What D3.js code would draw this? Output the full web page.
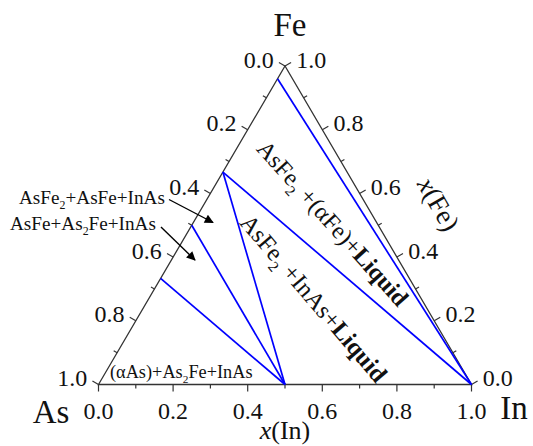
<!DOCTYPE html>
<html>
<head>
<meta charset="utf-8">
<title>As-Fe-In isothermal section</title>
<script src="https://d3js.org/d3.v7.min.js"></script>
<style>
  body { margin: 0; background: #fff; }
</style>
</head>
<body>
<script>
// tick values and labels (shared by the three sides)
const ticksMajor = [0, 0.2, 0.4, 0.6, 0.8, 1.0];
const ticksMinor = [0.1, 0.3, 0.5, 0.7, 0.9];
const tickLabels = ["0.0", "0.2", "0.4", "0.6", "0.8", "1.0"];

// phase compositions: x(In), x(Fe)
const phases  = ["(αFe)", "AsFe2", "AsFe", "As2Fe", "InAs", "In"];
const phaseIn = [0, 0, 0, 0, 0.5, 1];
const phaseFe = [0.96, 0.667, 0.5, 0.333, 0, 0];

// tie lines between phases
const tieLines = [["(αFe)", "In"], ["AsFe2", "In"], ["AsFe2", "InAs"], ["AsFe", "InAs"], ["As2Fe", "InAs"]];

const w = 533, h = 446;
const svg = d3.select("body").append("svg").attr("width", w).attr("height", h)
  .attr("font-family", "'Liberation Serif', 'Times New Roman', Times, 'DejaVu Serif', serif")
  .attr("fill", "#111");

const bx = d3.scaleLinear().domain([0, 1]).range([98.5, 471.5]);
const fy = d3.scaleLinear().domain([0, 1]).range([384.5, 66]);
const pt = (xin, xfe) => [bx(xin + xfe / 2), fy(xfe)];

// triangle frame
svg.append("path")
  .attr("d", d3.line()([pt(0, 0), pt(1, 0), pt(0, 1)]) + "Z")
  .attr("fill", "none").attr("stroke", "#333").attr("stroke-width", 1.3);

// sides: position of value v, outward normal
const sides = [
  { p: v => pt(v, 0), n: [0, 1], anchor: "middle", off: 26 },           // x(In)
  { p: v => pt(0, 1 - v), n: [-0.866, -0.5], anchor: "end", off: 13 },  // x(As)
  { p: v => pt(1 - v, v), n: [0.866, -0.5], anchor: "start", off: 13 }  // x(Fe)
];

sides.forEach(s => {
  const tk = svg.append("g").attr("stroke", "#333").attr("stroke-width", 1.2);
  ticksMajor.concat(ticksMinor).forEach(v => {
    const len = ticksMajor.includes(v) ? 7 : 4;
    const [x, y] = s.p(v);
    tk.append("line").attr("x1", x).attr("y1", y)
      .attr("x2", x + s.n[0] * len).attr("y2", y + s.n[1] * len);
  });
  ticksMajor.forEach((v, i) => {
    const [x, y] = s.p(v);
    svg.append("text")
      .attr("x", x + s.n[0] * s.off).attr("y", y + s.n[1] * s.off)
      .attr("text-anchor", s.anchor).attr("dominant-baseline", "central")
      .attr("font-size", 24).text(tickLabels[i]);
  });
});

// tie lines
const idx = name => phases.indexOf(name);
svg.append("g").selectAll("line").data(tieLines).join("line")
  .attr("x1", d => pt(phaseIn[idx(d[0])], phaseFe[idx(d[0])])[0])
  .attr("y1", d => pt(phaseIn[idx(d[0])], phaseFe[idx(d[0])])[1])
  .attr("x2", d => pt(phaseIn[idx(d[1])], phaseFe[idx(d[1])])[0])
  .attr("y2", d => pt(phaseIn[idx(d[1])], phaseFe[idx(d[1])])[1])
  .attr("stroke", "#0000ff").attr("stroke-width", 1.7);

// rich text helper: segments [text, style]
function rich(sel, segs, size) {
  let shifted = false;
  segs.forEach(([t, st]) => {
    const ts = sel.append("tspan").text(t);
    if (st === "sub") {
      ts.attr("font-size", size * 0.62).attr("dy", size * 0.28);
      shifted = true;
    } else {
      if (shifted) { ts.attr("dy", -size * 0.28); shifted = false; }
      if (st === "b") ts.attr("font-weight", "bold");
    }
  });
}

// vertex labels
svg.append("text").attr("x", 290).attr("y", 36).attr("text-anchor", "middle").attr("font-size", 33).text("Fe");
svg.append("text").attr("x", 51).attr("y", 423).attr("text-anchor", "middle").attr("font-size", 33).text("As");
svg.append("text").attr("x", 514).attr("y", 419).attr("text-anchor", "middle").attr("font-size", 33).text("In");

// axis titles
const tIn = svg.append("text").attr("x", bx(0.5)).attr("y", 439).attr("text-anchor", "middle").attr("font-size", 26);
tIn.append("tspan").attr("font-style", "italic").text("x");
tIn.append("tspan").text("(In)");
const tFe = svg.append("text").attr("transform", "translate(439,204) rotate(60)")
  .attr("text-anchor", "middle").attr("dy", "0.35em").attr("font-size", 27);
tFe.append("tspan").attr("font-style", "italic").text("x");
tFe.append("tspan").text("(Fe)");

// region labels
const r1 = svg.append("text").attr("transform", "translate(333,223) rotate(48)")
  .attr("text-anchor", "middle").attr("dy", "0.35em").attr("font-size", 24);
rich(r1, [["AsFe", ""], ["2", "sub"], [" +(αFe)+", ""], ["Liquid", "b"]], 24);

const r2 = svg.append("text").attr("transform", "translate(314,298) rotate(49.5)")
  .attr("text-anchor", "middle").attr("dy", "0.35em").attr("font-size", 24.5);
rich(r2, [["AsFe", ""], ["2", "sub"], [" +InAs+", ""], ["Liquid", "b"]], 24.5);

const r3 = svg.append("text").attr("x", 110).attr("y", 378).attr("font-size", 18.3);
rich(r3, [["(αAs)+As", ""], ["2", "sub"], ["Fe+InAs", ""]], 18.3);

const r4 = svg.append("text").attr("x", 19).attr("y", 203.5).attr("font-size", 19.2);
rich(r4, [["AsFe", ""], ["2", "sub"], ["+AsFe+InAs", ""]], 19.2);

const r5 = svg.append("text").attr("x", 10).attr("y", 229.5).attr("font-size", 19.2);
rich(r5, [["AsFe+As", ""], ["2", "sub"], ["Fe+InAs", ""]], 19.2);

// arrows
svg.append("defs").append("marker").attr("id", "ah")
  .attr("viewBox", "0 0 10 10").attr("refX", 9).attr("refY", 5)
  .attr("markerWidth", 11).attr("markerHeight", 9).attr("markerUnits", "userSpaceOnUse")
  .attr("orient", "auto")
  .append("path").attr("d", "M0,0L10,5L0,10Z").attr("fill", "#000");
[[169, 199.5, 213, 222.5], [161, 227, 195, 260]].forEach(a => {
  svg.append("line").attr("x1", a[0]).attr("y1", a[1]).attr("x2", a[2]).attr("y2", a[3])
    .attr("stroke", "#000").attr("stroke-width", 1.4).attr("marker-end", "url(#ah)");
});
</script>
</body>
</html>
